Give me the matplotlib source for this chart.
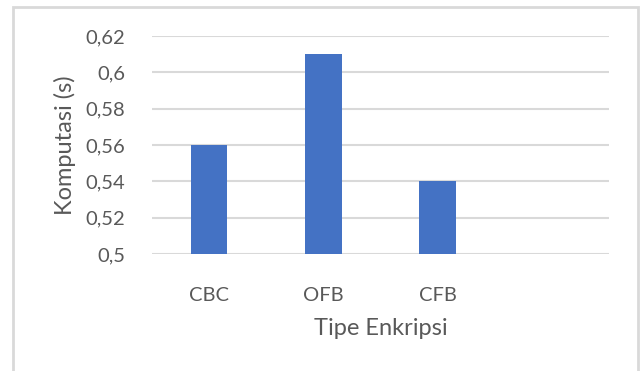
import matplotlib.pyplot as plt
from matplotlib.patches import Rectangle

categories = ["CBC", "OFB", "CFB", ""]
values = [0.56, 0.61, 0.54, None]
yticks = [0.5, 0.52, 0.54, 0.56, 0.58, 0.6, 0.62]
ytick_labels = ["0,5", "0,52", "0,54", "0,56", "0,58", "0,6", "0,62"]

plt.rcParams['font.family'] = ['Lato', 'DejaVu Sans']
grey = "#595959"

W, H = 642, 371
fig = plt.figure(figsize=(W / 100, H / 100), dpi=100)
ax = fig.add_axes([152 / W, 1 - 254 / H, (609 - 152) / W, (254 - 36) / H])

xs = list(range(len(categories)))
bar_x = [x for x, v in zip(xs, values) if v is not None]
bar_v = [v for v in values if v is not None]
ax.bar(bar_x, [v - 0.5 for v in bar_v], bottom=0.5, width=0.32, color="#4472C4", zorder=3)

ax.set_xlim(-0.5, len(categories) - 0.5)
ax.set_ylim(0.5, 0.62)
ax.set_yticks(yticks)
ax.set_yticklabels(ytick_labels)
ax.set_xticks(bar_x)
ax.set_xticklabels(categories[:len(bar_x)])
ax.grid(axis="y", color="#d9d9d9", linewidth=1.5, zorder=0)
for s in ax.spines.values():
    s.set_visible(False)
ax.tick_params(length=0, labelsize=14.5, colors=grey)
ax.tick_params(axis="x", pad=24)
ax.tick_params(axis="y", pad=19)
ax.set_xlabel("Tipe Enkripsi", fontsize=17, color=grey, labelpad=10)
ax.set_ylabel("Komputasi (s)", fontsize=17, color=grey, labelpad=7)

# outer border of the chart area
fig.patches.append(Rectangle((13 / W, -0.05), (638 - 13) / W, 1.05 - 7 / H,
                             transform=fig.transFigure, fill=False,
                             edgecolor="#d9d9d9", linewidth=2))

fig.savefig("out.png", dpi=100)
